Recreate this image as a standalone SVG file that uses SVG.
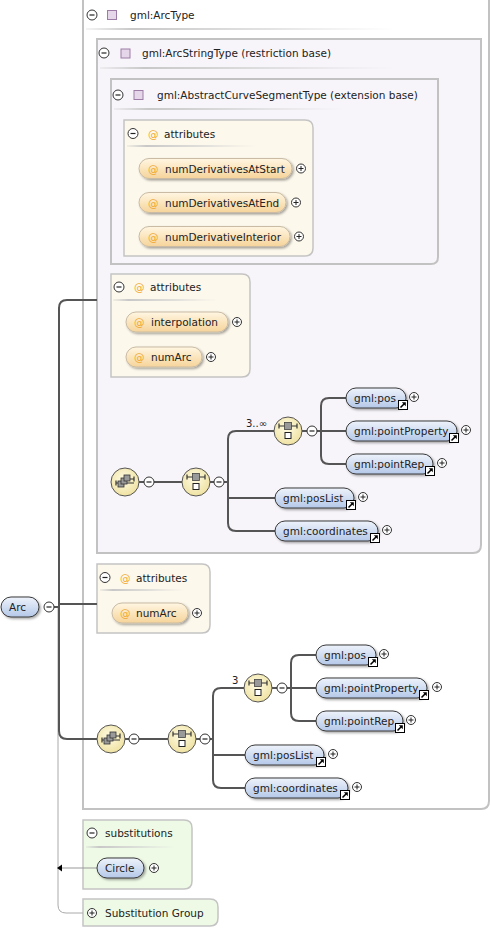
<svg xmlns="http://www.w3.org/2000/svg" xmlns:xlink="http://www.w3.org/1999/xlink" width="491" height="929" viewBox="0 0 491 929">
<style>
text{font-family:"DejaVu Sans","Liberation Sans",sans-serif;font-size:10.5px;fill:#222}
.at{fill:#f0a830}
.tbox{stroke:#c2c2c2;stroke-width:2}
.abox{fill:#fdf8ec;stroke:#c4c4c4;stroke-width:1.5}
.sbox{fill:#eefae6;stroke:#c4c4c4;stroke-width:1.5}
.ep{fill:url(#gBlue);stroke:#3a3a3a;stroke-width:1;filter:url(#sh)}
.apl{fill:url(#gAttr);stroke:#c9bba4;stroke-width:1;filter:url(#sh)}
.con{fill:none;stroke:#555;stroke-width:2}
.sep{fill:url(#gSep)}
.sq{fill:#e6d6ea;stroke:#9c7ca6;stroke-width:1}
</style>
<defs>
<linearGradient id="gBlue" x1="0" y1="0" x2="0" y2="1"><stop offset="0" stop-color="#eef3fb"/><stop offset="1" stop-color="#b4c8e8"/></linearGradient>
<linearGradient id="gAttr" x1="0" y1="0" x2="0" y2="1"><stop offset="0" stop-color="#fff6e2"/><stop offset="1" stop-color="#f6d49a"/></linearGradient>
<linearGradient id="gSep" x1="0" y1="0" x2="1" y2="0"><stop offset="0" stop-color="#c8c8c8" stop-opacity="0.2"/><stop offset="0.15" stop-color="#c8c8c8"/><stop offset="0.6" stop-color="#d0d0d0" stop-opacity="0.6"/><stop offset="1" stop-color="#d8d8d8" stop-opacity="0"/></linearGradient>
<radialGradient id="gIcon" cx="0.45" cy="0.4" r="0.6"><stop offset="0" stop-color="#fffbe4"/><stop offset="1" stop-color="#efe2a2"/></radialGradient>
<filter id="sh" x="-20%" y="-30%" width="140%" height="170%"><feDropShadow dx="1.5" dy="1.5" stdDeviation="0.8" flood-color="#000" flood-opacity="0.35"/></filter>
<g id="plus"><circle r="4.5" fill="#fff" stroke="#333" stroke-width="1"/><path d="M-2.5,0H2.5M0,-2.5V2.5" stroke="#222" stroke-width="1"/></g>
<g id="minus"><circle r="5" fill="#fff" stroke="#333" stroke-width="1"/><path d="M-2.5,0H2.5" stroke="#222" stroke-width="1.2"/></g>
<g id="ref"><rect x="0.5" y="0.5" width="9" height="9" fill="#fff" stroke="#000" stroke-width="1"/><path d="M2.5,7.5L6.5,3.5" stroke="#000" stroke-width="1.6"/><polygon points="3.8,2.2 7.8,2.2 7.8,6.2" fill="#000"/></g>
<g id="seq"><circle r="14" fill="url(#gIcon)" stroke="#555" stroke-width="1"/><path d="M-9,-5H9M-9,-7.5V-2.5M9,-7.5V-2.5" stroke="#333" stroke-width="1.2"/><rect x="-3.5" y="-8.5" width="7" height="7" fill="#999" stroke="#444" stroke-width="0.8"/><rect x="-3" y="1.5" width="6" height="6" fill="#fff" stroke="#222" stroke-width="1"/></g>
<g id="cho"><circle r="14" fill="url(#gIcon)" stroke="#555" stroke-width="1"/><path d="M-9,1H9M-9,-1.5V3.5M9,-5.5V-0.5M5,-3H9" stroke="#333" stroke-width="1.2"/><rect x="-7" y="-1" width="6" height="6" fill="#999" stroke="#333" stroke-width="0.8"/><rect x="-4" y="-4" width="6" height="6" fill="#999" stroke="#333" stroke-width="0.8"/><rect x="-1" y="-7" width="6" height="6" fill="#999" stroke="#333" stroke-width="0.8"/></g>
</defs>
<rect width="491" height="929" fill="#fff"/>

<g id="ArcType">
<path class="tbox" fill="#fff" d="M83,-1H489V801Q489,809 481,809H83Z"/>
<use href="#minus" x="92" y="15"/>
<rect class="sq" x="107.5" y="10.5" width="9" height="9"/>
<text x="130" y="19">gml:ArcType</text>
<rect class="sep" x="86" y="28" width="310" height="2"/>
</g>

<g id="ArcStringType">
<path class="tbox" fill="#f8f5fa" d="M97,39H481V545Q481,553 473,553H97Z"/>
<use href="#minus" x="104" y="53"/>
<rect class="sq" x="121" y="49" width="9" height="9"/>
<text x="142" y="57">gml:ArcStringType (restriction base)</text>
<rect class="sep" x="100" y="67" width="295" height="2"/>
</g>

<g id="AbstractCurveSegmentType">
<path class="tbox" fill="#f8f5fa" d="M111,79H438V257Q438,264 431,264H111Z"/>
<use href="#minus" x="118" y="95"/>
<rect class="sq" x="134" y="90.5" width="9" height="9"/>
<text x="157" y="99">gml:AbstractCurveSegmentType (extension base)</text>
<rect class="sep" x="114" y="108" width="230" height="2"/>
</g>

<g id="attributes1">
<path class="abox" d="M124,120H305Q313,120 313,128V248Q313,256 305,256H124Z"/>
<use href="#minus" x="133" y="133.5"/>
<text class="at" x="148" y="137.5">@</text>
<text x="164" y="137.5">attributes</text>
<rect class="sep" x="127" y="145" width="130" height="2"/>
</g>
<g id="numDerivativesAtStart">
<rect class="apl" x="139" y="158.5" width="153" height="20" rx="10"/>
<text class="at" x="148" y="172.5">@</text><text x="165" y="172.5">numDerivativesAtStart</text>
<use href="#plus" x="301" y="168.5"/>
</g>
<g id="numDerivativesAtEnd">
<rect class="apl" x="139" y="192.5" width="147" height="20" rx="10"/>
<text class="at" x="148" y="206.5">@</text><text x="165" y="206.5">numDerivativesAtEnd</text>
<use href="#plus" x="296" y="202.5"/>
</g>
<g id="numDerivativeInterior">
<rect class="apl" x="139" y="226.5" width="151" height="20" rx="10"/>
<text class="at" x="148" y="240.5">@</text><text x="165" y="240.5">numDerivativeInterior</text>
<use href="#plus" x="299" y="236.5"/>
</g>

<g id="attributes2">
<path class="abox" d="M111,274H242Q250,274 250,282V369Q250,377 242,377H111Z"/>
<use href="#minus" x="119" y="287"/>
<text class="at" x="134" y="291">@</text>
<text x="150" y="291">attributes</text>
<rect class="sep" x="113" y="299" width="105" height="2"/>
</g>
<g id="interpolation">
<rect class="apl" x="126" y="312" width="102" height="20" rx="10"/>
<text class="at" x="134" y="326">@</text><text x="151" y="326">interpolation</text>
<use href="#plus" x="237" y="322"/>
</g>
<g id="numArc1">
<rect class="apl" x="126" y="347" width="76" height="20" rx="10"/>
<text class="at" x="134" y="361">@</text><text x="151" y="361">numArc</text>
<use href="#plus" x="211" y="357"/>
</g>

<g id="attributes3">
<path class="abox" d="M97,564H202Q210,564 210,572V625Q210,633 202,633H97Z"/>
<use href="#minus" x="105" y="577.5"/>
<text class="at" x="120" y="581.5">@</text>
<text x="136" y="581.5">attributes</text>
<rect class="sep" x="100" y="589" width="85" height="2"/>
</g>
<g id="numArc2">
<rect class="apl" x="112" y="603" width="76" height="20" rx="10"/>
<text class="at" x="120" y="617">@</text><text x="136" y="617">numArc</text>
<use href="#plus" x="197" y="613"/>
</g>

<g id="substitutions">
<path class="sbox" d="M83,820H184Q192,820 192,828V881Q192,889 184,889H83Z"/>
<use href="#minus" x="92" y="833"/>
<text x="105" y="837">substitutions</text>
<rect class="sep" x="86" y="846" width="90" height="2"/>
</g>
<g id="SubstitutionGroup">
<path class="sbox" d="M83,899H210Q218,899 218,907V918Q218,926 210,926H83Z"/>
<use href="#plus" x="92" y="913"/>
<text x="105" y="917">Substitution Group</text>
</g>

<g id="connectors">
<path d="M58,607V905Q58,913 66,913H83" fill="none" stroke="#aaa" stroke-width="1"/>
<path d="M97,868H62" fill="none" stroke="#999" stroke-width="1"/>
<polygon points="57,868 62,864.5 62,871.5" fill="#000"/>
<path class="con" d="M54,607H59M97,300H67Q59,300 59,308V731Q59,739 67,739H97M59,604H97"/>
<path class="con" d="M139,482H144M154,482H182M210,482H214M224,482H228M274,431H236Q228,431 228,439V523Q228,531 236,531H275M228,498H275"/>
<path class="con" d="M302,431H307M317,431H321M346,398H329Q321,398 321,406V456Q321,464 329,464H346M321,431H346"/>
<path class="con" d="M125,739H129M139,739H168M196,739H200M210,739H213M244,688H221Q213,688 213,696V780Q213,788 221,788H245M213,755H245"/>
<path class="con" d="M272,688H277M287,688H291M316,655H299Q291,655 291,663V713Q291,721 299,721H316M291,688H316"/>
</g>

<g id="Arc">
<rect class="ep" x="1" y="597" width="38" height="20" rx="10"/>
<text x="9" y="611">Arc</text>
<use href="#minus" x="49" y="607"/>
</g>

<g id="seqChoice1"><use href="#cho" x="125" y="482"/><use href="#minus" x="149" y="482"/></g>
<g id="sequence1"><use href="#seq" x="196" y="482"/><use href="#minus" x="219" y="482"/></g>
<g id="sequence1b"><use href="#seq" x="288" y="431"/><use href="#minus" x="312" y="431"/><text x="246" y="427" style="font-size:10px">3..∞</text></g>
<g id="pos1"><rect class="ep" x="346" y="388" width="60" height="20" rx="10"/><text x="354" y="402">gml:pos</text><use href="#ref" x="398" y="400"/><use href="#plus" x="414" y="397"/></g>
<g id="pointProperty1"><rect class="ep" x="346" y="421" width="111" height="20" rx="10"/><text x="354" y="435">gml:pointProperty</text><use href="#ref" x="449" y="433"/><use href="#plus" x="466" y="430"/></g>
<g id="pointRep1"><rect class="ep" x="346" y="454" width="87" height="20" rx="10"/><text x="354" y="468">gml:pointRep</text><use href="#ref" x="425" y="466"/><use href="#plus" x="442" y="463"/></g>
<g id="posList1"><rect class="ep" x="275" y="488" width="79" height="20" rx="10"/><text x="283" y="502">gml:posList</text><use href="#ref" x="346" y="500"/><use href="#plus" x="363" y="497"/></g>
<g id="coordinates1"><rect class="ep" x="275" y="521" width="103" height="20" rx="10"/><text x="283" y="535">gml:coordinates</text><use href="#ref" x="370" y="533"/><use href="#plus" x="387" y="530"/></g>

<g id="seqChoice2"><use href="#cho" x="111" y="739"/><use href="#minus" x="134" y="739"/></g>
<g id="sequence2"><use href="#seq" x="182" y="739"/><use href="#minus" x="205" y="739"/></g>
<g id="sequence2b"><use href="#seq" x="258" y="688"/><use href="#minus" x="282" y="688"/><text x="232" y="684" style="font-size:10px">3</text></g>
<g id="pos2"><rect class="ep" x="316" y="645" width="60" height="20" rx="10"/><text x="324" y="659">gml:pos</text><use href="#ref" x="368" y="657"/><use href="#plus" x="384" y="654"/></g>
<g id="pointProperty2"><rect class="ep" x="316" y="678" width="111" height="20" rx="10"/><text x="324" y="692">gml:pointProperty</text><use href="#ref" x="419" y="690"/><use href="#plus" x="437" y="687"/></g>
<g id="pointRep2"><rect class="ep" x="316" y="711" width="87" height="20" rx="10"/><text x="324" y="725">gml:pointRep</text><use href="#ref" x="395" y="723"/><use href="#plus" x="411" y="720"/></g>
<g id="posList2"><rect class="ep" x="245" y="745" width="79" height="20" rx="10"/><text x="253" y="759">gml:posList</text><use href="#ref" x="316" y="757"/><use href="#plus" x="333" y="754"/></g>
<g id="coordinates2"><rect class="ep" x="245" y="778" width="103" height="20" rx="10"/><text x="253" y="792">gml:coordinates</text><use href="#ref" x="340" y="790"/><use href="#plus" x="357" y="787"/></g>

<g id="Circle"><rect class="ep" x="97" y="858" width="47" height="20" rx="10"/><text x="105" y="872">Circle</text><use href="#plus" x="154" y="868"/></g>
</svg>
